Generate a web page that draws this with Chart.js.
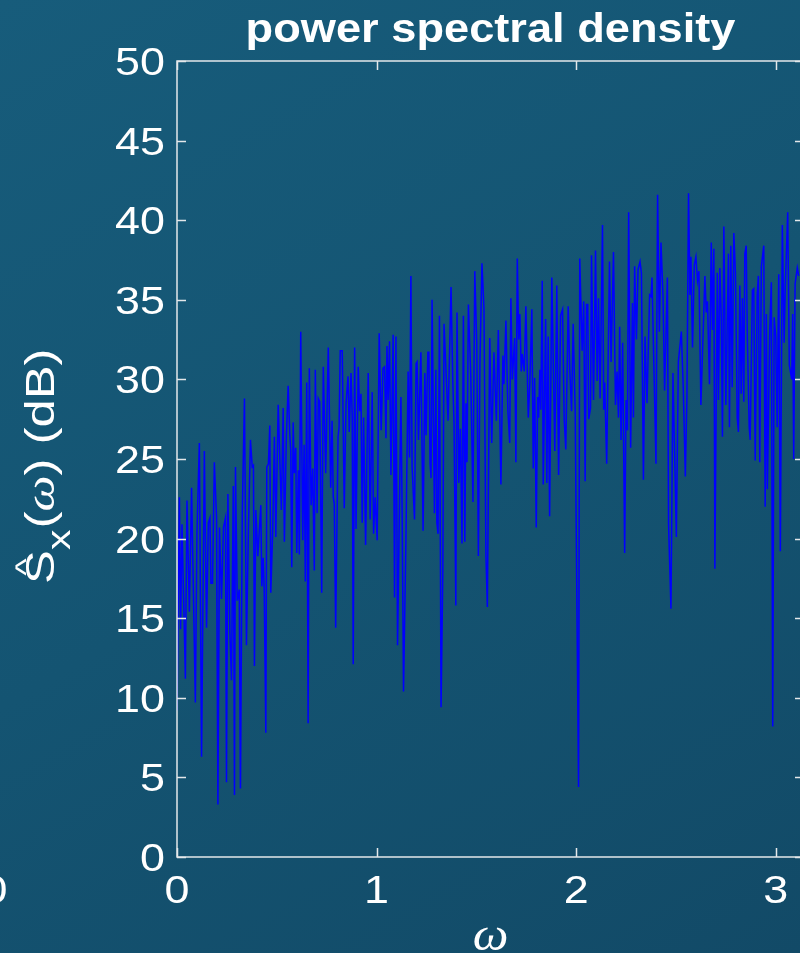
<!DOCTYPE html>
<html>
<head>
<meta charset="utf-8">
<script src="https://cdn.jsdelivr.net/npm/chart.js@4.4.0/dist/chart.umd.min.js"></script>
<style>
  html, body { margin: 0; padding: 0; overflow: hidden; }
  body { width: 800px; height: 953px; background: linear-gradient(150deg, #175c7b 0%, #145472 50%, #124a67 100%); }
  #wrap { position: absolute; left: 0; top: 0; width: 830px; height: 953px; }
</style>
</head>
<body>
<div id="wrap"><canvas id="psd"></canvas></div>
<script>
// frequency (rad/sample) and periodogram in dB
const omega = [
  0, .012, .018, .025, .042, .05, .062, .073, .092, .10, .112, .123, .137, .148, .157, .165, .17, .178, .187, .198,
  .205, .213, .223, .233, .243, .248, .255, .265, .273, .282, .288, .293, .302, .312, .318, .327, .338, .348, .358, .368,
  .377, .383, .388, .395, .405, .412, .42, .425, .432, .437, .445, .45, .458, .465, .47, .48, .488, .495, .507,
  .523, .532, .538, .548, .557, .565, .57, .575, .582, .588, .595, .60, .608, .613, .62, .63, .637, .643, .65, .657,
  .663, .672, .68, .688, .693, .702, .708, .715, .725, .733, .745, .758, .77, .777, .783, .788, .795, .807, .812, .818,
  .828, .838, .847, .857, .863, .872, .878, .883, .89, .897, .908, .915, .922, .928, .935, .945, .958, .968, .978, .985,
  .993, 1.003, 1.013, 1.023, 1.032,
  1.04, 1.047, 1.052, 1.058, 1.065, 1.072, 1.083, 1.09, 1.097, 1.105, 1.122, 1.128, 1.135, 1.147, 1.158, 1.165, 1.172, 1.178, 1.19, 1.198,
  1.203, 1.21, 1.222, 1.233, 1.242, 1.248, 1.257, 1.262, 1.268, 1.273, 1.278, 1.29, 1.297, 1.302, 1.308, 1.315, 1.323, 1.332, 1.338, 1.348,
  1.358, 1.373, 1.382, 1.388, 1.397, 1.403, 1.412, 1.42, 1.428, 1.435, 1.442, 1.448, 1.453, 1.46, 1.472, 1.483, 1.492, 1.502, 1.51, 1.518,
  1.528, 1.538, 1.548, 1.555,
  1.567, 1.577, 1.588, 1.60, 1.61, 1.623, 1.633, 1.638, 1.648, 1.658, 1.667, 1.673, 1.68, 1.692, 1.698, 1.705, 1.712, 1.718, 1.725, 1.73,
  1.74, 1.748, 1.76, 1.768, 1.778, 1.785, 1.792, 1.80, 1.807, 1.812, 1.818, 1.823, 1.83, 1.835, 1.847, 1.853, 1.86, 1.867, 1.878, 1.893,
  1.903, 1.912, 1.922, 1.932, 1.94, 1.948, 1.96, 1.968, 1.977, 1.985, 1.995, 2.012, 2.018, 2.03, 2.038, 2.045, 2.052, 2.058, 2.063, 2.072,
  2.077,
  2.087, 2.097, 2.105, 2.112, 2.12, 2.132, 2.138, 2.143, 2.153, 2.167, 2.175, 2.187, 2.197, 2.205, 2.212, 2.218, 2.225, 2.233, 2.243, 2.25,
  2.257, 2.263, 2.273, 2.282, 2.287, 2.293, 2.302, 2.31, 2.32, 2.327, 2.337, 2.345, 2.355, 2.368, 2.375, 2.38, 2.40, 2.408, 2.417, 2.425,
  2.435, 2.443, 2.457, 2.463, 2.475, 2.485, 2.502, 2.512, 2.527, 2.537, 2.547, 2.555, 2.563, 2.57, 2.575, 2.583, 2.592,
  2.60, 2.608, 2.615, 2.625, 2.635, 2.645, 2.652, 2.658, 2.668, 2.677, 2.683, 2.69, 2.695, 2.707, 2.713, 2.72, 2.727, 2.733, 2.74, 2.75,
  2.763, 2.768, 2.775, 2.782, 2.79, 2.798, 2.807, 2.813, 2.82, 2.827, 2.833, 2.84, 2.845, 2.852, 2.858, 2.867, 2.872, 2.883, 2.89, 2.897,
  2.907, 2.913, 2.92, 2.928, 2.94, 2.947, 2.953, 2.958, 2.97, 2.978, 2.985, 2.992, 3.0, 3.007, 3.015, 3.023, 3.033, 3.042, 3.048, 3.06,
  3.068, 3.08, 3.085, 3.09, 3.097, 3.108, 3.115
];
const psdDb = [
  9.2, 22.6, 14.3, 20.9, 11.2, 22.4, 15.4, 23.2, 9.7, 20.4, 26.0, 6.3, 25.5, 14.4, 21.0, 21.3, 17.2, 17.2, 24.8, 21.4,
  3.3, 20.7, 16.2, 20.7, 21.3, 4.7, 22.8, 14.1, 11.1, 23.3, 3.9, 24.5, 16.1, 16.8, 4.3, 21.6, 28.8, 13.3, 20.7, 26.2,
  24.5, 24.6, 12.0, 21.8, 18.9, 20.4, 22.1, 17.0, 18.8, 16.8, 7.8, 24.5, 24.7, 27.1, 16.6, 20.7, 26.4, 20.1, 28.4,
  21.8, 28.2, 19.8, 26.4, 29.6, 26.6, 25.5, 18.2, 27.3, 24.1, 25.7, 19.1, 24.3, 19.0, 33.0, 19.9, 25.9, 17.3, 29.8, 8.4,
  30.7, 22.1, 24.4, 18.0, 30.6, 21.6, 28.8, 28.6, 16.6, 30.8, 24.1, 32.0, 23.2, 27.4, 22.6, 22.2, 14.4, 26.4, 27.0, 31.8,
  31.8, 21.9, 28.5, 30.2, 26.7, 30.4, 27.7, 12.1, 32.0, 20.6, 30.8, 28.0, 29.1, 21.0, 27.6, 19.6, 30.4, 21.2, 29.2, 20.3,
  22.6, 19.9, 32.9, 26.8, 30.7,
  30.8, 26.3, 32.1, 28.7, 32.4, 24.0, 32.8, 16.3, 32.7, 13.3, 28.9, 21.8, 10.4, 19.9, 30.5, 25.1, 36.5, 24.5, 21.2, 31.0,
  31.1, 26.2, 31.7, 20.5, 30.4, 26.5, 31.7, 31.7, 24.7, 23.8, 35.0, 21.6, 30.6, 21.0, 20.3, 34.0, 9.4, 18.0, 33.5, 30.5,
  27.4, 35.8, 29.8, 27.3, 15.8, 34.2, 23.5, 26.9, 19.7, 34.0, 19.8, 28.5, 24.8, 34.7, 30.2, 22.3, 36.8, 32.3, 18.9, 31.0,
  37.3, 34.5, 18.9, 15.7,
  32.6, 26.0, 31.7, 27.4, 33.1, 23.4, 31.5, 29.7, 33.7, 28.0, 26.0, 35.1, 30.0, 32.6, 24.8, 37.6, 32.5, 34.1, 30.5, 31.6,
  30.5, 34.6, 27.6, 29.8, 34.4, 24.4, 30.1, 20.7, 28.9, 27.6, 30.6, 28.1, 36.2, 23.4, 33.8, 23.5, 32.7, 21.4, 36.4, 25.5,
  35.9, 24.0, 34.0, 34.4, 27.5, 25.6, 34.6, 30.6, 28.0, 33.5, 28.1, 4.4, 37.6, 31.8, 34.9, 23.6, 34.7, 34.7, 27.5, 28.2,
  37.8,
  28.7, 38.1, 29.9, 35.1, 28.8, 39.7, 28.1, 29.8, 24.7, 37.4, 31.1, 38.0, 28.4, 30.5, 27.6, 33.3, 26.2, 32.3, 19.1, 28.7,
  26.8, 40.5, 25.7, 34.8, 27.6, 37.1, 32.5, 36.9, 37.4, 36.7, 23.7, 32.7, 28.5, 35.3, 35.2, 36.4, 24.7, 41.6, 33.0, 38.6,
  35.3, 29.3, 36.4, 20.9, 15.6, 30.4, 20.1, 31.1, 33.0, 29.3, 23.9, 28.9, 41.7, 35.3, 37.7, 32.0, 37.2,
  37.7, 36.2, 36.8, 28.4, 32.4, 36.5, 34.2, 34.9, 29.7, 38.6, 33.1, 38.2, 18.1, 36.7, 28.7, 37.0, 34.0, 26.4, 39.6, 28.4,
  37.9, 27.0, 38.4, 29.5, 39.2, 36.7, 27.6, 26.7, 35.9, 29.1, 35.1, 28.6, 37.9, 38.4, 32.4, 27.0, 26.2, 35.6, 35.7, 24.9,
  35.3, 36.5, 24.8, 37.1, 38.4, 22.0, 34.1, 23.1, 33.1, 36.1, 8.2, 33.9, 32.7, 27.0, 36.6, 19.2, 39.7, 32.3, 35.9, 40.5,
  30.9, 30.0, 34.1, 25.0, 36.0, 37.0, 36.5
];
const xTicks = [0, 1, 2, 3];
const yTicks = [0, 5, 10, 15, 20, 25, 30, 35, 40, 45, 50];
const titleText = "power spectral density";
const neighbourTick = "0";

const axisColor = "#e4e8ea";
const textStretch = 1.15;

function stretchedText(ctx, txt, x, y, align, s) {
  ctx.save();
  ctx.translate(x, y);
  ctx.scale(s, 1);
  ctx.textAlign = align;
  ctx.fillText(txt, 0, 0);
  ctx.restore();
}

const axesBox = {
  id: "axesBox",
  afterDraw(chart) {
    const { ctx, chartArea: a, scales } = chart;
    const xs = scales.x, ys = scales.y;
    ctx.save();
    ctx.strokeStyle = axisColor;
    ctx.lineWidth = 1.5;
    ctx.strokeRect(a.left, a.top, a.right - a.left, a.bottom - a.top);
    ctx.beginPath();
    xTicks.forEach(v => {
      const px = Math.round(xs.getPixelForValue(v)) + 0.5;
      ctx.moveTo(px, a.bottom); ctx.lineTo(px, a.bottom - 9);
      ctx.moveTo(px, a.top); ctx.lineTo(px, a.top + 9);
    });
    yTicks.forEach(v => {
      const py = Math.round(ys.getPixelForValue(v)) + 0.5;
      ctx.moveTo(a.left, py); ctx.lineTo(a.left + 9, py);
      ctx.moveTo(a.right, py); ctx.lineTo(a.right - 9, py);
    });
    ctx.stroke();

    ctx.fillStyle = "#ffffff";
    ctx.textBaseline = "alphabetic";
    ctx.font = '39px "Liberation Sans", Arial, sans-serif';
    yTicks.forEach(v => {
      stretchedText(ctx, String(v), a.left - 12, ys.getPixelForValue(v) + 14, "right", textStretch);
    });
    xTicks.forEach(v => {
      stretchedText(ctx, String(v), xs.getPixelForValue(v), a.bottom + 46, "center", textStretch);
    });
    stretchedText(ctx, neighbourTick, -5, a.bottom + 46, "center", textStretch);

    // title
    ctx.font = 'bold 40px "Liberation Sans", Arial, sans-serif';
    stretchedText(ctx, titleText, (a.left + a.right) / 2, 42, "center", 1.13);

    // x label
    ctx.font = 'italic 46px "Liberation Serif", "DejaVu Serif", serif';
    stretchedText(ctx, "\u03c9", (a.left + a.right) / 2, 950, "center", 1.1);

    // y label, rotated
    ctx.save();
    ctx.translate(54, 584);
    ctx.rotate(-Math.PI / 2);
    ctx.scale(1.24, 1);
    ctx.textAlign = "left";
    let u = 0;
    ctx.font = '41px "Liberation Sans", Arial, sans-serif';
    ctx.fillText("S", u, 0);
    const wS = ctx.measureText("S").width;
    ctx.font = '30px "Liberation Sans", Arial, sans-serif';
    ctx.textAlign = "center";
    ctx.fillText("^", u + wS / 2, -18);
    ctx.textAlign = "left";
    u += wS;
    ctx.font = '33px "Liberation Sans", Arial, sans-serif';
    ctx.fillText("x", u, 16);
    u += ctx.measureText("x").width + 1;
    ctx.font = '41px "Liberation Sans", Arial, sans-serif';
    ctx.fillText("(", u, 0);
    u += ctx.measureText("(").width;
    ctx.font = 'italic 41px "Liberation Serif", "DejaVu Serif", serif';
    ctx.fillText("\u03c9", u, 0);
    u += ctx.measureText("\u03c9").width;
    ctx.font = '41px "Liberation Sans", Arial, sans-serif';
    ctx.fillText(") (dB)", u, 0);
    ctx.restore();

    ctx.restore();
  }
};

new Chart(document.getElementById("psd"), {
  type: "scatter",
  data: {
    datasets: [{
      data: omega.map((w, i) => ({ x: w, y: psdDb[i] })),
      showLine: true,
      borderColor: "#0000ff",
      borderWidth: 1.5,
      pointRadius: 0,
      tension: 0
    }]
  },
  options: {
    responsive: true,
    maintainAspectRatio: false,
    animation: false,
    layout: { padding: { left: 177, right: 26, top: 61, bottom: 96 } },
    plugins: { legend: { display: false }, tooltip: { enabled: false }, title: { display: false } },
    scales: {
      x: { type: "linear", min: 0, max: Math.PI, display: false },
      y: { type: "linear", min: 0, max: 50, display: false }
    }
  },
  plugins: [axesBox]
});
</script>
</body>
</html>
